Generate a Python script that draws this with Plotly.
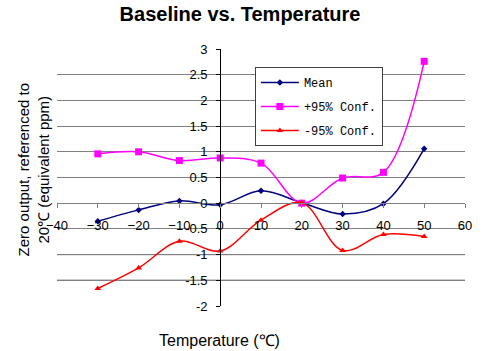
import plotly.graph_objects as go

temps = [-30, -20, -10, 0, 10, 20, 30, 40, 50]
mean_vals = [-0.35, -0.13, 0.045, -0.03, 0.24, 0.01, -0.21, -0.01, 1.06]
upper_vals = [0.96, 1.0, 0.83, 0.88, 0.78, 0.0, 0.49, 0.6, 2.76]
lower_vals = [-1.66, -1.26, -0.74, -0.93, -0.33, 0.01, -0.92, -0.61, -0.65]
x_ticks = [-40, -30, -20, -10, 0, 10, 20, 30, 40, 50, 60]
y_ticks = [-2, -1.5, -1, -0.5, 0, 0.5, 1, 1.5, 2, 2.5, 3]
y_tick_labels = ["-2", "-1.5", "-1", "-0.5", "0", "0.5", "1", "1.5", "2", "2.5", "3"]

fig = go.Figure()
series = [
    ("Mean", mean_vals, "#000080", "diamond", 5),
    ("+95% Conf.", upper_vals, "#FF00FF", "square", 7),
    ("-95% Conf.", lower_vals, "#FF0000", "triangle-up", 6),
]
for name, vals, color, sym, sz in series:
    fig.add_trace(go.Scatter(
        x=temps, y=vals, name=name, mode="lines+markers",
        line=dict(color=color, width=1.5, shape="spline", smoothing=1.0),
        marker=dict(color=color, symbol=sym, size=sz),
        legendgroup=name,
    ))

# darker gridlines at -1 and -1.5 as in reference
for yv in [-1, -1.5]:
    fig.add_shape(type="line", xref="paper", yref="y", x0=0, x1=1, y0=yv, y1=yv,
                  line=dict(color="black", width=1), layer="below")

fig.update_layout(
    width=484, height=351,
    margin=dict(l=57, r=15, t=49, b=45),
    paper_bgcolor="white", plot_bgcolor="white",
    font=dict(family="Liberation Sans, Arial, sans-serif", size=13, color="black"),
    title=dict(text="<b>Baseline vs. Temperature</b>", x=240/484, xref="container", xanchor="center",
               y=1-14/351, yref="container", yanchor="middle",
               font=dict(size=20, family="Liberation Sans, Arial, sans-serif", color="black")),
    showlegend=True,
    legend=dict(x=0.485, y=0.93, xanchor="left", yanchor="top",
                bgcolor="white", bordercolor="#404040", borderwidth=1,
                font=dict(family="Liberation Mono, monospace", size=12, color="black"),
                tracegroupgap=5, traceorder="grouped", itemwidth=38),
    xaxis=dict(range=[-40, 60], tickvals=x_ticks, showgrid=False, zeroline=False,
               showline=True, linecolor="#808080", linewidth=1,
               ticks="outside", ticklen=4, tickcolor="#808080",
               anchor="free", position=0.4, ticklabelstandoff=6,
               tickfont=dict(size=13)),
    yaxis=dict(range=[-2, 3], tickvals=y_ticks, ticktext=y_tick_labels,
               showgrid=True, gridcolor="#808080", gridwidth=1, zeroline=False,
               showline=True, linecolor="black", linewidth=1,
               ticks="outside", ticklen=4, tickcolor="black",
               anchor="free", position=0.4, ticklabelstandoff=6,
               tickfont=dict(size=13)),
    annotations=[
        dict(text="Zero output, referenced to<br>20℃ (equivalent ppm)", xref="paper", yref="paper",
             x=-57/412 + 33/412, y=(305.6-170)/256.6, xanchor="center", yanchor="middle",
             textangle=-90, showarrow=False, font=dict(size=15)),
        dict(text="Temperature (℃)", xref="paper", yref="paper",
             x=(221-57)/412, y=(305.6-340)/256.6, xanchor="center", yanchor="middle",
             showarrow=False, font=dict(size=16)),
    ],
)

fig.write_html("out.html")
